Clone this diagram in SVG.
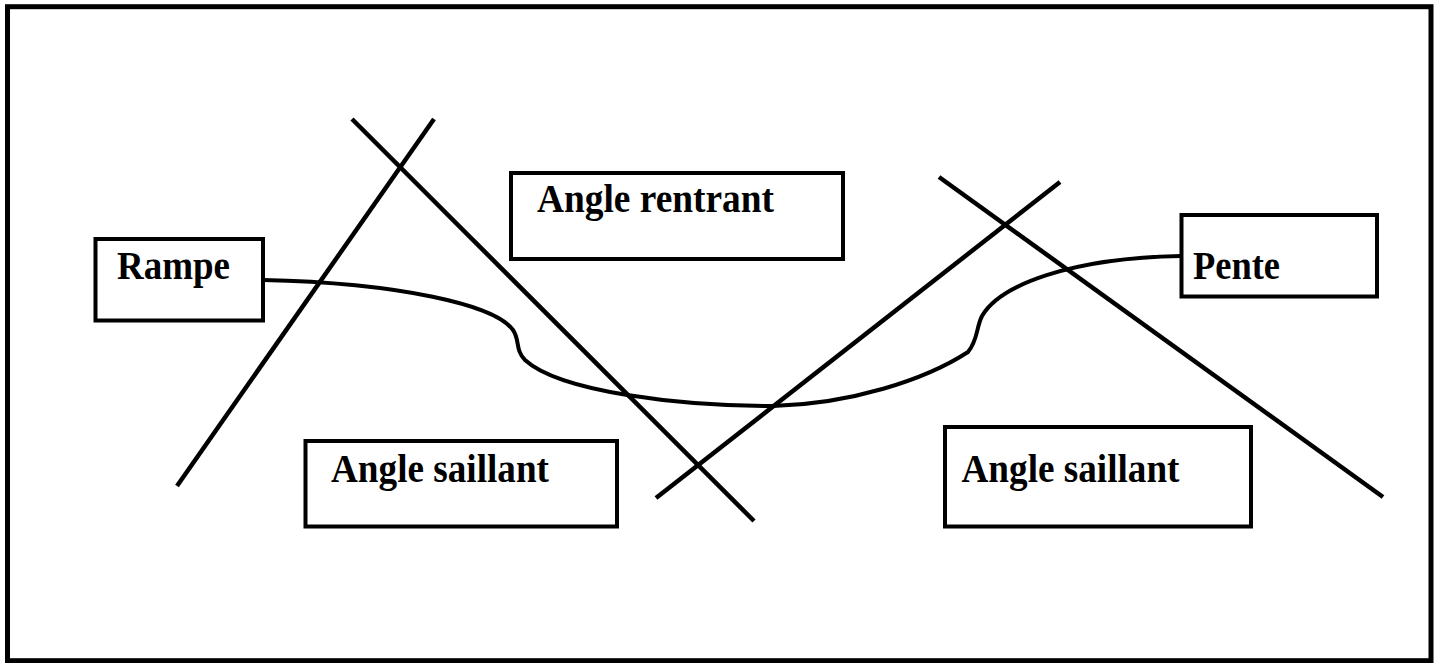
<svg xmlns="http://www.w3.org/2000/svg" width="1442" height="663" viewBox="0 0 1442 663">
<style>
.frame{fill:none;stroke:#000;stroke-width:5}
.box{fill:#fff;stroke:#000;stroke-width:4}
.ln{fill:none;stroke:#000;stroke-width:4.5}
.cv{fill:none;stroke:#000;stroke-width:4}
.lbl{font-family:"Liberation Serif","Times New Roman",serif;font-weight:bold;font-size:39px;fill:#000}
</style>
<rect width="1442" height="663" fill="#fff"/>
<rect class="frame" x="7.5" y="6.7" width="1423.5" height="654"/>
<g id="connectors">
<line class="ln" x1="177" y1="486" x2="434" y2="119"/>
<line class="ln" x1="352" y1="119" x2="754" y2="521"/>
<line class="ln" x1="656" y1="498" x2="1060" y2="182"/>
<line class="ln" x1="939" y1="177" x2="1383" y2="497"/>
<path class="cv" d="M263,280 C400,283 495,305 513,330 C520,340 515,350 525,360 C560,392 680,406 773,406 C850,404 925,380 968,352 C978,340 976,328 982,316 C1000,285 1070,258 1181,256"/>
</g>
<g id="rampe">
<rect class="box" x="95.5" y="239" width="167.5" height="81.5"/>
<text class="lbl" x="117" y="279" textLength="113" lengthAdjust="spacingAndGlyphs">Rampe</text>
</g>
<g id="angle-rentrant">
<rect class="box" x="511" y="173" width="332" height="86"/>
<text class="lbl" x="537" y="211.5" textLength="237" lengthAdjust="spacingAndGlyphs">Angle rentrant</text>
</g>
<g id="pente">
<rect class="box" x="1181.5" y="215" width="195.5" height="81.5"/>
<text class="lbl" x="1193" y="279" textLength="87" lengthAdjust="spacingAndGlyphs">Pente</text>
</g>
<g id="angle-saillant-1">
<rect class="box" x="305.5" y="441" width="311.5" height="85.5"/>
<text class="lbl" x="331" y="481.5" textLength="218" lengthAdjust="spacingAndGlyphs">Angle saillant</text>
</g>
<g id="angle-saillant-2">
<rect class="box" x="945" y="427" width="306" height="99.5"/>
<text class="lbl" x="961.5" y="481.5" textLength="218" lengthAdjust="spacingAndGlyphs">Angle saillant</text>
</g>
</svg>
